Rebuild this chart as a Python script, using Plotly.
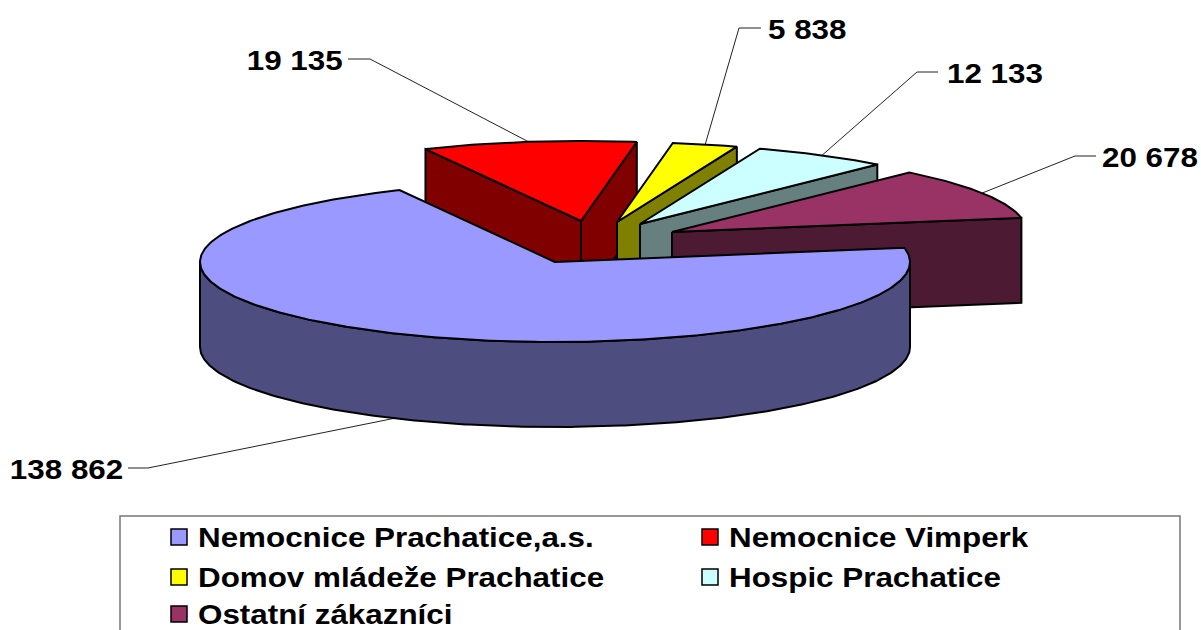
import math
import plotly.graph_objects as go

customers = ["Nemocnice Prachatice,a.s.", "Nemocnice Vimperk", "Domov mládeže Prachatice", "Hospic Prachatice", "Ostatní zákazníci"]
values = [138862, 19135, 5838, 12133, 20678]
top_colors = ["#9999FF", "#FF0000", "#FFFF00", "#CCFFFF", "#993366"]
wall_colors = ["#4D4D80", "#800000", "#808000", "#668080", "#4D1A33"]

# pie projection (pixels of the page)
RX, RY, DEPTH = 355, 80, 85
START_ANGLE = 10.2
slice_centers = [(555, 262), (581, 221), (617, 222), (640, 224), (672, 232)]
elbow_pos = [(148, 468), (370, 59), (739, 28), (917, 72), (1075, 156)]
leader_end = [(128, 468), (348, 59), (761, 28), (938, 72), (1096, 156)]
label_pos = [(123, 469), (343, 60), (768, 29), (947, 73), (1102, 157)]
label_anchor = ["right", "right", "left", "left", "left"]
legend_cols = [179, 710]
legend_rows = [537, 577, 614]
FONT = "Liberation Sans"
FSIZE = 28
TEXT_STRETCH = 1.12


def pt(c, a, dz=0.0):
    r = math.radians(a)
    return c[0] + RX * math.cos(r), c[1] - RY * math.sin(r) + dz


def arc(c, a0, a1, dz=0.0):
    n = max(2, int(abs(a1 - a0) * 1.5))
    return [pt(c, a0 + (a1 - a0) * i / n, dz) for i in range(n + 1)]


def poly(points, color, width=2):
    xs = [p[0] for p in points] + [points[0][0]]
    ys = [p[1] for p in points] + [points[0][1]]
    return go.Scatter(x=xs, y=ys, mode="lines", fill="toself", fillcolor=color,
                      line=dict(color="black", width=width), hoverinfo="skip", showlegend=False)


total = sum(values)
spans = [v / total * 360 for v in values]
angles = []
a = START_ANGLE
for s in spans:
    angles.append((a, a - s))  # clockwise
    a -= s

traces = []
shapes = []
annotations = []
draw_order = [1, 2, 3, 4, 0]
for i in draw_order:
    c = slice_centers[i]
    a0, a1 = angles[i]
    while a0 < 0:
        a0 += 360
        a1 += 360
    if i == 0:
        traces.append(poly(arc(c, 0, -180) + arc(c, -180, 0, DEPTH), wall_colors[i]))
    else:
        tipb = (c[0], c[1] + DEPTH)
        e1 = pt(c, a1)
        traces.append(poly([c, e1, (e1[0], e1[1] + DEPTH), tipb], wall_colors[i]))
        if math.cos(math.radians(a0)) < 0:
            e0 = pt(c, a0)
            traces.append(poly([c, e0, (e0[0], e0[1] + DEPTH), tipb], wall_colors[i]))
    traces.append(poly([c] + arc(c, a0, a1), top_colors[i]))

text_font = dict(family=FONT, size=FSIZE, color="black", weight="bold")
for i in range(len(values)):
    c = slice_centers[i]
    mid = (angles[i][0] + angles[i][1]) / 2
    p = pt(c, mid, DEPTH if i == 0 else 0)
    e = elbow_pos[i]
    n = leader_end[i]
    l = label_pos[i]
    shapes.append(dict(type="path", xref="x", yref="y",
                       path=f"M{p[0]:.1f},{p[1]:.1f} L{e[0]},{e[1]} L{n[0]},{n[1]}",
                       line=dict(color="#222222", width=1), layer="below"))
    annotations.append(dict(x=l[0], y=l[1], xref="x", yref="y", showarrow=False,
                            text=f"{values[i]:,}".replace(",", " "),
                            xanchor=label_anchor[i], yanchor="middle",
                            xshift=2 if label_anchor[i] == "right" else -2,
                            font=text_font))

# legend frame, swatches and names
shapes.append(dict(type="rect", xref="x", yref="y", x0=120, x1=1180, y0=516, y1=660,
                   line=dict(color="#777777", width=1.5), fillcolor="white", layer="below"))
swatch_x = [legend_cols[i % 2] for i in range(len(customers))]
swatch_y = [legend_rows[i // 2] for i in range(len(customers))]
traces.append(go.Scatter(x=swatch_x, y=swatch_y, mode="markers", showlegend=False, hoverinfo="skip",
                         marker=dict(symbol="square", size=16, color=top_colors,
                                     line=dict(color="black", width=1.5))))
for i, name in enumerate(customers):
    annotations.append(dict(x=swatch_x[i] + 18, y=swatch_y[i], xref="x", yref="y", showarrow=False,
                            text=name, xanchor="left", yanchor="middle",
                            xshift=-1, font=text_font))

fig = go.Figure(traces)
fig.update_layout(
    width=1201, height=630, autosize=False, margin=dict(l=0, r=0, t=0, b=0),
    paper_bgcolor="white", plot_bgcolor="white", showlegend=False,
    xaxis=dict(range=[0, 1201], visible=False, fixedrange=True),
    yaxis=dict(range=[630, 0], visible=False, fixedrange=True),
    shapes=shapes, annotations=annotations,
)

# The reference's text is wider than Liberation Sans Bold: stretch it horizontally,
# keeping the anchored edge of each label where it is.
post = """
document.body.style.margin='0';document.body.style.overflow='hidden';
var k = %s;
document.querySelectorAll('.annotation-text').forEach(function(t, i){
  var w = t.getComputedTextLength(), x = parseFloat(t.getAttribute('x')) || 0;
  var L = w * k, d = (L - w) / 2;
  t.setAttribute('textLength', L);
  t.setAttribute('lengthAdjust', 'spacingAndGlyphs');
  t.setAttribute('x', i < 2 ? x - d : x + d);
});
""" % TEXT_STRETCH
fig.write_html("out.html", config=dict(displayModeBar=False), post_script=post)
